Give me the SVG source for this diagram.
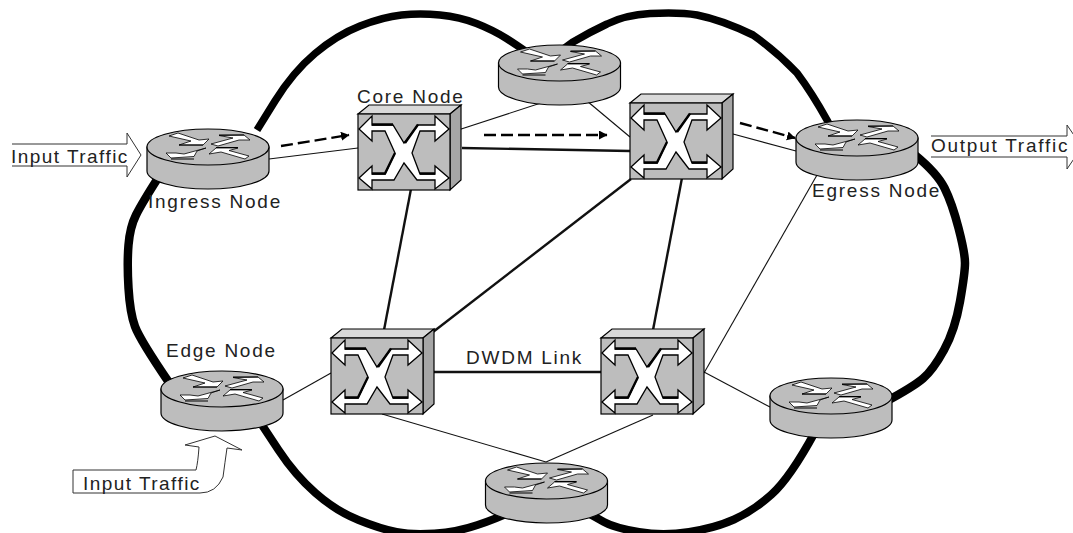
<svg xmlns="http://www.w3.org/2000/svg" width="1073" height="533" viewBox="0 0 1073 533">
<style>
text{font-family:"Liberation Sans",Arial,sans-serif;font-size:19px;letter-spacing:1.75px;fill:#222}
text.input{letter-spacing:1.45px}
.cloud{fill:none;stroke:#000;stroke-linecap:butt}
.thick{fill:none;stroke:#111;stroke-width:2.4}
.thin{fill:none;stroke:#111;stroke-width:1.1}
.dash{fill:none;stroke:#000;stroke-width:2.4;stroke-dasharray:12 5}
.body{fill:#bdbdbd;stroke:#000;stroke-width:1.2}
.glyph{fill:#fff;stroke:#000;stroke-width:.8;stroke-linejoin:miter}
.xglyph{fill:#fff;stroke:#000;stroke-width:1.3;stroke-linejoin:miter}
.shadow{fill:none;stroke:#000;stroke-width:1.2}
.xshadow{fill:none;stroke:#000;stroke-width:2.4}
.block{fill:#fff;stroke:#333;stroke-width:1}
.open{fill:#fff;stroke:none}
</style>
<defs>
<marker id="head" markerUnits="userSpaceOnUse" markerWidth="10" markerHeight="10" refX="8" refY="4.5" orient="auto"><path d="M0,0L8.5,4.5L0,9Z" fill="#000"/></marker>
<g id="router">
<path class="body" d="M-61,0V24A61,18 0 0 0 61,24V0Z"/>
<ellipse class="body" cx="0" cy="0" rx="61" ry="18"/>
<path class="glyph" d="M-39,-11L-30,-14L-9,-7L1,-8L-5,-2L-29,-2L-17,-6Z"/>
<path class="glyph" d="M3,-3L25,-9L11,-11.5L36,-12L42,-7L31,-7L10,-1Z"/>
<path class="glyph" d="M-2,1L-24,7L-32,6L-42,6L-37,11L-14,9.500L-11,4Z"/>
<path class="glyph" d="M1,7L8,1L30,1L21,3.500L41,9L37,12L13,5Z"/>
<path class="shadow" d="M-29,-2H-5M11,-12H36M-37,12H-14M8,0.500H30"/>
</g>
<g id="switch">
<path class="body" style="fill:#d9d9d9" d="M0,0L11,-9H103L92,0Z"/>
<path class="body" style="fill:#a6a6a6" d="M92,0L103,-9V66L92,76Z"/>
<rect class="body" x="0" y="0" width="92" height="76"/>
<path class="xglyph" d="M1,15L14,2V11H35L46,29L60,11H77V2L91,15L77,27V17H62L54,39L62,60H77V52L91,64L77,75V66H59L46,49L36,66H14V75L1,64L14,52V60H27L37,39L27,17H14V27Z"/>
<path class="xshadow" d="M14,10.500H35M60,10.500L47,29M14,59.500H27L37,39M62,59.500H77"/>
</g>
</defs>
<g id="cloud">
<path class="cloud" stroke-width="7.5" d="M257,130L275,101Q293,72 315,53.500Q337,35 360,26Q383,17 401.500,15Q420,13 440,15Q460,17 476.500,23.500Q493,30 506.500,38.500Q520,47 545,65"/>
<path class="cloud" stroke-width="8.5" d="M158,178Q142,203 136,215Q130,227 128.500,245Q127,263 128.500,288Q130,313 135,326.500Q140,340 170,384"/>
<path class="cloud" stroke-width="8" d="M262,425L278.500,450Q295,475 315.500,493Q336,511 358.500,520Q381,529 396.500,532Q412,535 434.500,533.500Q457,532 477.500,525Q498,518 510,512"/>
<path class="cloud" stroke-width="8" d="M588,513L604,522Q615,528 639,532Q663,536 689,532Q715,528 734,519.500Q753,511 771.500,494.500Q790,478 815,432"/>
<path class="cloud" stroke-width="7.5" d="M555,55L573,42Q590,32 607,24Q625,15 650,13.500Q680,12 697,15Q722,20 753,35Q777,52 797,73Q812,93 827,120L835,135"/>
<path class="cloud" stroke-width="8.5" d="M915,155Q937,173 944.500,188Q952,203 958.500,228Q965,253 965,263Q965,273 960,301.500Q955,330 944,350Q933,370 923,378.500Q913,387 885,402"/>
</g>
<g id="connectors">
<path class="thick" d="M462,148L630,151"/>
<path class="thick" d="M411,189L384,330"/>
<path class="thick" d="M682,178L653,330"/>
<path class="thick" d="M631,179L433,332"/>
<path class="thick" d="M434,372H601"/>
<path class="thin" d="M269,159L358,148"/>
<path class="thin" d="M452,132L547,101"/>
<path class="thin" d="M587,101L630,137"/>
<path class="thin" d="M733,134L796,151"/>
<path class="thin" d="M817,175L704,373"/>
<path class="thin" d="M704,372L770,407"/>
<path class="thin" d="M283,400L331,373"/>
<path class="thin" d="M382,414L546,462"/>
<path class="thin" d="M653,415L546,462"/>
<path class="dash" marker-end="url(#head)" d="M281,146L349,135"/>
<path class="dash" marker-end="url(#head)" d="M484,135H607"/>
<path class="dash" marker-end="url(#head)" d="M740,123L795,138"/>
</g>
<g id="input-traffic-top">
<path class="open" d="M12,144H127V133L141,155L127,177V166H12Z"/>
<path class="block" d="M12,144H127V133L141,155L127,177V166H12"/>
<text class="input" x="11" y="163">Input Traffic</text>
</g>
<g id="output-traffic">
<path class="block" d="M931,136H1067V125L1082,147L1067,169V157H931"/>
<text x="931" y="152">Output Traffic</text>
</g>
<g id="input-traffic-bottom">
<path class="block" d="M73,470H196Q198,462 199,447L185,445L215,436L242,450L227,448Q225,462 223,477Q216,493 200,493H73Z"/>
<text class="input" x="83" y="490">Input Traffic</text>
</g>
<g id="ingress-node"><use href="#router" x="208" y="147"/><text x="148" y="208">Ingress Node</text></g>
<g id="top-router"><use href="#router" x="559.500" y="63"/></g>
<g id="egress-node"><use href="#router" x="857" y="138"/><text x="812" y="197">Egress Node</text></g>
<g id="edge-node"><use href="#router" x="222" y="389"/><text x="166" y="357">Edge Node</text></g>
<g id="bottom-router"><use href="#router" x="546.500" y="481"/></g>
<g id="right-router"><use href="#router" x="831" y="396"/></g>
<g id="core-node"><use href="#switch" x="358" y="114"/><text x="357" y="103">Core Node</text></g>
<g id="upper-switch"><use href="#switch" x="630" y="103"/></g>
<g id="lower-left-switch"><use href="#switch" x="331" y="338"/></g>
<g id="lower-right-switch"><use href="#switch" x="601" y="338"/></g>
<g id="dwdm-link-label"><text x="466" y="364">DWDM Link</text></g>
</svg>
